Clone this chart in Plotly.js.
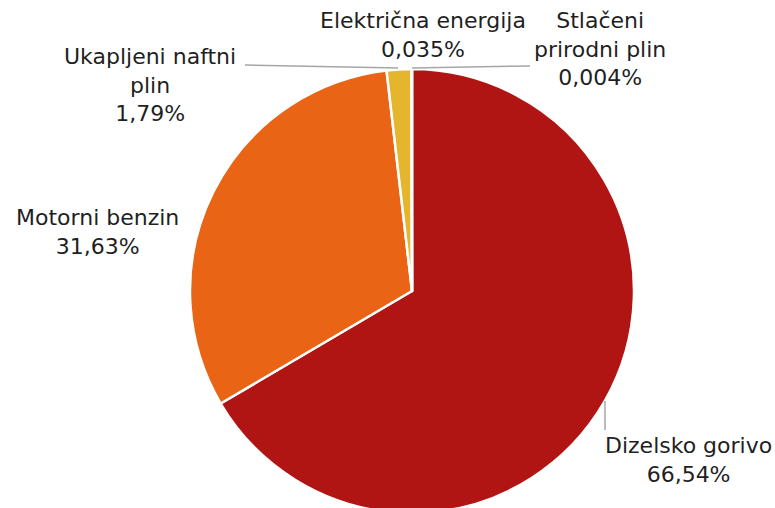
<!DOCTYPE html>
<html>
<head>
<meta charset="utf-8">
<script src="https://cdn.plot.ly/plotly-3.0.1.min.js"></script>
<style>
html, body { margin: 0; padding: 0; overflow: hidden; background: #fff; }
#chart { width: 775px; height: 530px; }
</style>
</head>
<body>
<div id="chart"></div>
<script>
// Data
const categories = ["Dizelsko gorivo", "Motorni benzin", "Ukapljeni naftni plin", "Električna energija", "Stlačeni prirodni plin"];
const displayLabels = ["Dizelsko gorivo", "Motorni benzin", "Ukapljeni naftni<br>plin", "Električna energija", "Stlačeni<br>prirodni plin"];
const values = [66.54, 31.63, 1.79, 0.035, 0.004];
const colors = ["#B01513", "#E96414", "#E5B52D", "#4F81BD", "#8C8C8C"];

const W = 775, H = 530;
const px = x => x / W;
const py = y => (H - y) / H;

// Pie geometry (pixels)
const cx = 412, cy = 291, R = 222;

// Label anchor positions (center x, top y in px)
const labelPos = [
  [688, 431],
  [97, 203],
  [150, 42],
  [423, 6],
  [600, 6]
];

function fmt(v) { return String(v).replace('.', ',') + '%'; }

const annotations = categories.map((c, i) => ({
  text: displayLabels[i] + '<br>' + fmt(values[i]),
  x: px(labelPos[i][0]), y: py(labelPos[i][1]),
  xref: 'paper', yref: 'paper',
  xanchor: 'center', yanchor: 'top',
  showarrow: false,
  align: 'center',
  font: { family: 'DejaVu Sans', size: 22, color: '#1F1F1F' }
}));

const lineStyle = { color: '#A6A6A6', width: 1.5 };
const shapes = [
  { type: 'line', xref: 'paper', yref: 'paper', x0: px(245), y0: py(65), x1: px(398), y1: py(68), line: lineStyle },
  { type: 'line', xref: 'paper', yref: 'paper', x0: px(412), y0: py(68), x1: px(530), y1: py(66), line: lineStyle },
  { type: 'line', xref: 'paper', yref: 'paper', x0: px(605), y0: py(401), x1: px(605), y1: py(430), line: lineStyle }
];

const trace = {
  type: 'pie',
  labels: categories,
  values: values,
  sort: false,
  direction: 'clockwise',
  rotation: 0,
  textinfo: 'none',
  hoverinfo: 'label+percent',
  marker: { colors: colors, line: { color: '#FFFFFF', width: 2.5 } },
  domain: { x: [px(cx - R), px(cx + R)], y: [py(cy + R), py(cy - R)] },
  showlegend: false
};

const layout = {
  width: W, height: H,
  margin: { l: 0, r: 0, t: 0, b: 0 },
  paper_bgcolor: '#FFFFFF',
  plot_bgcolor: '#FFFFFF',
  showlegend: false,
  annotations: annotations,
  shapes: shapes
};

Plotly.newPlot('chart', [trace], layout, { displayModeBar: false, staticPlot: true });
</script>
</body>
</html>
